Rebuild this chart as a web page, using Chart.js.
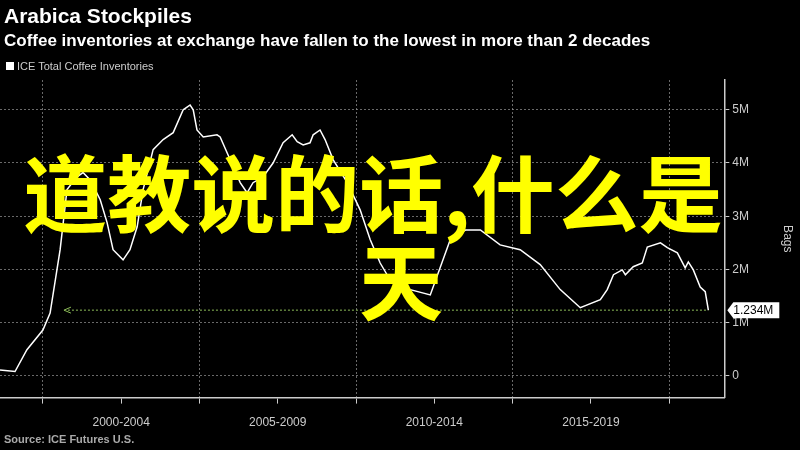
<!DOCTYPE html>
<html><head><meta charset="utf-8">
<script src="https://cdn.jsdelivr.net/npm/chart.js@4"></script>
<style>
body{margin:0;background:#000;width:800px;height:450px;overflow:hidden;font-family:"Liberation Sans",Arial,sans-serif;position:relative}
#c{position:absolute;left:0;top:0}
.t1{position:absolute;left:4px;top:4px;color:#fff;font-size:21px;font-weight:bold}
.t2{position:absolute;left:4px;top:31px;color:#fff;font-size:17px;font-weight:bold}
.lg{position:absolute;left:6px;top:60px;color:#ccc;font-size:11px}
.lg span{display:inline-block;width:8px;height:8px;background:#fff;margin-right:3px}
.src{position:absolute;left:4px;top:433px;color:#aaa;font-size:11px;font-weight:bold}
</style></head><body>
<canvas id="c" width="800" height="450"></canvas>
<div class="t1">Arabica Stockpiles</div>
<div class="t2">Coffee inventories at exchange have fallen to the lowest in more than 2 decades</div>
<div class="lg"><span></span>ICE Total Coffee Inventories</div>
<div class="src">Source: ICE Futures U.S.</div>
<script>
const years=[1998.63,1999.11,1999.49,2000.0,2000.23,2000.55,2000.77,2001.09,2001.28,2001.51,2001.83,2002.05,2002.24,2002.56,2002.78,2003.01,2003.20,2003.52,2003.84,2004.16,2004.48,2004.70,2004.80,2004.92,2005.12,2005.56,2005.66,2005.98,2006.30,2006.52,2006.71,2007.03,2007.35,2007.67,2007.96,2008.12,2008.31,2008.53,2008.63,2008.85,2009.01,2009.27,2009.72,2010.13,2010.45,2010.77,2011.09,2011.73,2012.37,2013.01,2013.49,2013.97,2014.6,2015.24,2015.88,2016.52,2017.16,2017.8,2018.02,2018.22,2018.5,2018.6,2018.85,2019.14,2019.3,2019.72,2019.94,2020.26,2020.51,2020.61,2020.77,2020.99,2021.15,2021.25];
const bags=[0.11,0.08,0.49,0.86,1.18,2.37,3.50,3.74,3.82,3.68,3.31,2.88,2.37,2.18,2.37,2.80,3.50,4.25,4.44,4.57,5.0,5.09,5.0,4.62,4.49,4.53,4.49,4.06,3.63,3.44,3.63,3.74,4.0,4.38,4.53,4.40,4.34,4.38,4.53,4.62,4.44,4.06,3.63,3.12,2.56,2.12,1.80,1.62,1.52,2.56,2.74,2.74,2.46,2.37,2.09,1.62,1.28,1.43,1.62,1.90,1.99,1.90,2.05,2.12,2.42,2.50,2.41,2.31,2.03,2.14,1.99,1.67,1.58,1.234];
const lastValue=1.234;
const refStart=2000.8;
const periodLabels={2002.5:"2000-2004",2007.5:"2005-2009",2012.5:"2010-2014",2017.5:"2015-2019"};
const yTicks=[0,1,2,3,4,5];
const yTitle="Bags";
const overlay1="道教说的话,什么是", overlay2="天";
const grid='rgba(150,150,150,0.7)';
const plug={id:'extra',afterDatasetsDraw(ch){
 const c=ch.ctx,y=ch.scales.y,x=ch.scales.x;
 const py=y.getPixelForValue(lastValue);
 c.save();
 c.strokeStyle='#8fbf5a';c.lineWidth=1;
 const ax=x.getPixelForValue(refStart);
 c.beginPath();c.moveTo(ax-4,py);c.lineTo(ax+3,py-3);c.moveTo(ax-4,py);c.lineTo(ax+3,py+3);c.stroke();
 const bx=ch.chartArea.right+3;
 c.fillStyle='#fff';c.beginPath();c.moveTo(bx,py);c.lineTo(bx+6,py-8);c.lineTo(bx+52,py-8);c.lineTo(bx+52,py+8);c.lineTo(bx+6,py+8);c.closePath();c.fill();
 c.fillStyle='#000';c.font='12px "Liberation Sans"';c.textBaseline='middle';c.fillText(lastValue.toFixed(3)+'M',bx+6,py+1);
 c.save();c.translate(787,(ch.chartArea.top+ch.chartArea.bottom)/2);c.rotate(Math.PI/2);
 c.fillStyle='#ccc';c.textAlign='center';c.fillText(yTitle,0,0);c.restore();
 c.fillStyle='#ffff00';c.font='bold 84px "Noto Sans CJK SC"';c.textAlign='center';c.textBaseline='alphabetic';
 c.fillText(overlay1,373,226);c.fillText(overlay2,401,314);
 c.restore();}};
new Chart(document.getElementById('c'),{type:'line',
 data:{datasets:[
  {data:years.map((v,i)=>({x:v,y:bags[i]})),borderColor:'#fff',borderWidth:1.5,pointRadius:0,tension:0},
  {data:[{x:refStart,y:lastValue},{x:years[years.length-1],y:lastValue}],borderColor:'#8fbf5a',borderWidth:1,borderDash:[2,2],pointRadius:0}
 ]},
 options:{animation:false,responsive:false,plugins:{legend:{display:false},tooltip:{enabled:false}},
  layout:{padding:{top:80,bottom:8,left:0,right:48}},
  scales:{
   x:{type:'linear',min:1998.63,max:2021.76,
    afterBuildTicks(s){s.ticks=[2000,2002.5,2005,2007.5,2010,2012.5,2015,2017.5,2020].map(v=>({value:v}));},
    ticks:{color:'#ccc',font:{size:12},maxRotation:0,autoSkip:false,padding:12,callback:v=>periodLabels[v]||''},
    grid:{color:c=>c.tick&&c.tick.value%5===0?grid:'transparent',lineWidth:1,drawTicks:true,tickLength:6,tickColor:'#ccc'},
    border:{color:'#ccc',width:1.5,dash:[2,2]}},
   y:{position:'right',min:-0.41,max:5.56,
    afterBuildTicks(s){s.ticks=yTicks.map(v=>({value:v}));},
    ticks:{color:'#ccc',font:{size:12},callback:v=>v===0?'0':v+'M',padding:3},
    grid:{color:grid,tickLength:5,tickColor:'#ccc'},
    border:{color:'#ccc',width:1.5,dash:[2,2]}}
  }},
 plugins:[plug]
});
</script></body></html>
